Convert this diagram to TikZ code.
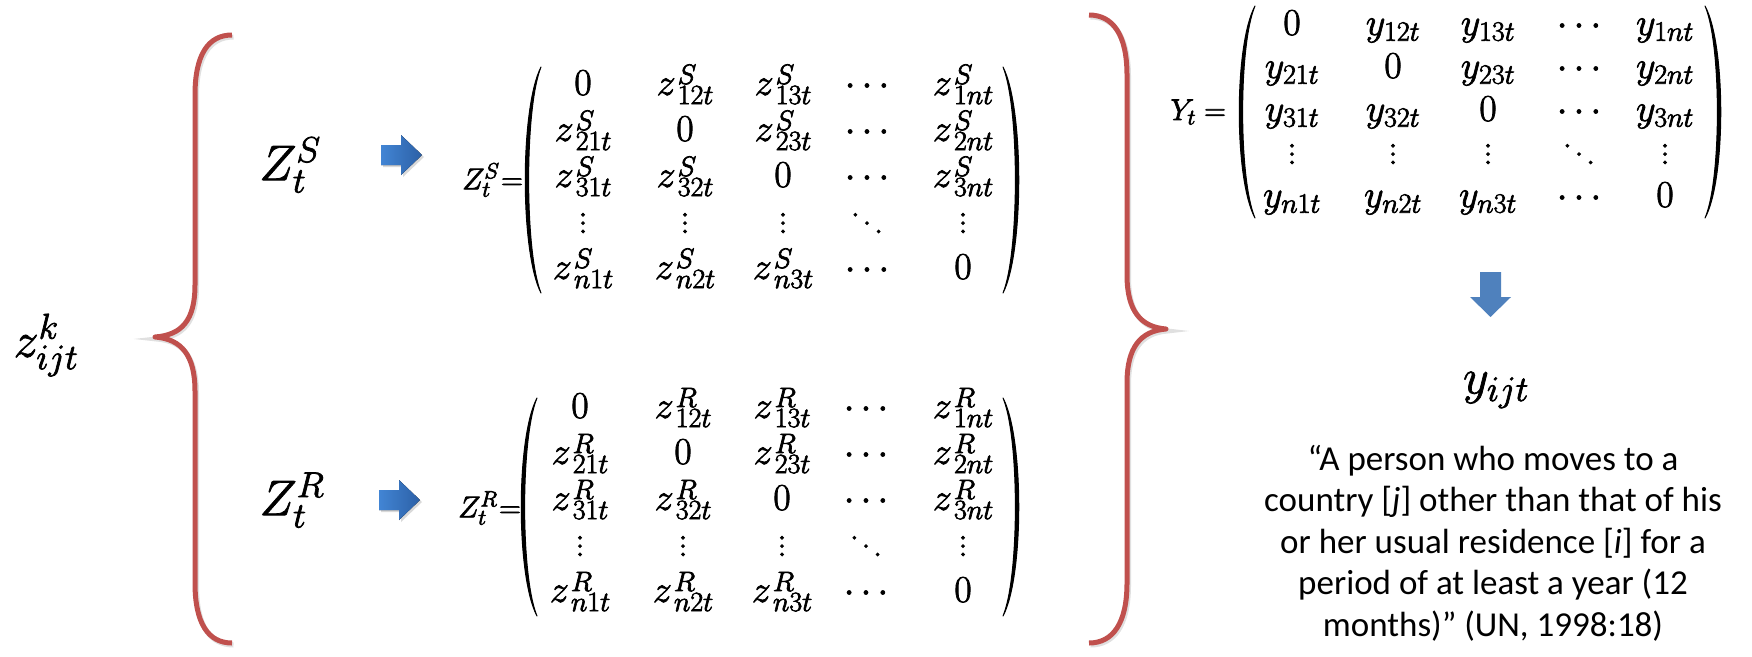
\RequirePackage{fix-cm}
\documentclass[tikz,border=0pt]{standalone}
\usepackage{fontspec}
\newfontfamily\calibri{Carlito}
\DeclareMathSizes{30}{30}{22}{16}
\DeclareMathSizes{38}{38}{28}{20}
\DeclareMathSizes{50}{50}{36}{26}
\definecolor{bracered}{RGB}{192,80,77}
\definecolor{arrowblue}{RGB}{79,129,189}
\definecolor{arrowlight}{RGB}{66,133,212}
\definecolor{arrowdark}{RGB}{44,96,166}
\newcommand\myvdots{\vbox{\baselineskip=0.22em\lineskiplimit=0pt\hbox{.}\hbox{.}\hbox{.}}}
\newcommand\myddots{\mathinner{\raise0.44em\hbox{.}\mkern1mu\raise0.22em\hbox{.}\mkern1mu\hbox{.}}}
\newcommand\zent[3]{#1\mkern1mu\rlap{\raisebox{0.29em}{$\scriptstyle #2$}}\raisebox{-0.24em}{$\scriptstyle #3$}}
\newcommand\boldon{\special{pdf:literal direct 2 Tr 0.7 w}}
\newcommand\boldoff{\special{pdf:literal direct 0 Tr}}
\newcommand\myLparen[3]{%
  \fill[black,draw=black,line width=1pt,line join=round] (#1,#2) .. controls ({#1-21},{#2+0.18*(#3-#2)}) and ({#1-21},{#3-0.18*(#3-#2)}) .. (#1,#3)
     .. controls ({#1-16.5},{#3-0.18*(#3-#2)}) and ({#1-16.5},{#2+0.18*(#3-#2)}) .. (#1,#2) -- cycle;}
\newcommand\myRparen[3]{%
  \fill[black,draw=black,line width=1pt,line join=round] (#1,#2) .. controls ({#1+21},{#2+0.18*(#3-#2)}) and ({#1+21},{#3-0.18*(#3-#2)}) .. (#1,#3)
     .. controls ({#1+16.5},{#3-0.18*(#3-#2)}) and ({#1+16.5},{#2+0.18*(#3-#2)}) .. (#1,#2) -- cycle;}
\begin{document}
\begin{tikzpicture}[x=1pt,y=-1pt,
  boldtext/.style={execute at begin node=\boldon, execute at end node=\boldoff},
  bigmath/.style={inner sep=0pt, font=\fontsize{50}{60}\selectfont, boldtext},
  midmath/.style={inner sep=0pt, font=\fontsize{30}{36}\selectfont, boldtext},
  entry/.style={inner sep=0pt, anchor=base, font=\fontsize{38}{44}\selectfont, boldtext},
  quoteline/.style={inner sep=0pt, anchor=base, font=\calibri\fontsize{35}{42}\selectfont},
  brace/.style={draw=bracered, line width=5pt, line join=round,
    preaction={draw=black, opacity=0.12, line width=5pt, transform canvas={shift={(1.5pt,-2pt)}}}},
  rarrow/.style={left color=arrowlight, right color=arrowdark, draw=none},
  ashadow/.style={fill=black, opacity=0.15}
]
\useasboundingbox (0,0) rectangle (1752,656);
\fill[white] (0,0) rectangle (1752,656);

% left label
\node[bigmath] (zk) at (46,345) {$z^{k}_{ijt}$};

% left brace
\draw[brace] (232,35) .. controls (208,35) and (195,55) .. (195,95) -- (195,285)
  .. controls (195,320) and (182,335) .. (155,337)
  .. controls (182,339) and (195,356) .. (195,391) -- (195,583)
  .. controls (195,623) and (208,643) .. (232,643);

% Z^S and Z^R labels
\node[bigmath] (ZS) at (290,165) {$Z^{S}_{t}$};
\node[bigmath] (ZR) at (292,500) {$Z^{R}_{t}$};

% right block arrows
\fill[ashadow] (383,147) -- (403,147) -- (403,137) -- (424,157) -- (403,177) -- (403,167) -- (383,167) -- cycle;
\fill[rarrow] (381,145) -- (401,145) -- (401,135) -- (422,155) -- (401,175) -- (401,165) -- (381,165) -- cycle;
\fill[ashadow] (381,492) -- (401,492) -- (401,482) -- (422,502) -- (401,522) -- (401,512) -- (381,512) -- cycle;
\fill[rarrow] (379,490) -- (399,490) -- (399,480) -- (420,500) -- (399,520) -- (399,510) -- (379,510) -- cycle;

% Z^S matrix
\node[midmath, anchor=east] (ZSeq) at (523,180) {$Z^{S}_{t}\mkern1mu{=}$};
\myLparen{541}{67}{293}
\myRparen{1003}{67}{293}
\foreach \rowlist [count=\r] in {
 {0,\zent{z}{S}{12t},\zent{z}{S}{13t},\cdots,\zent{z}{S}{1nt}},
 {\zent{z}{S}{21t},0,\zent{z}{S}{23t},\cdots,\zent{z}{S}{2nt}},
 {\zent{z}{S}{31t},\zent{z}{S}{32t},0,\cdots,\zent{z}{S}{3nt}},
 {\myvdots,\myvdots,\myvdots,\myddots,\myvdots},
 {\zent{z}{S}{n1t},\zent{z}{S}{n2t},\zent{z}{S}{n3t},\cdots,0}}{
  \foreach \e [count=\c] in \rowlist {
    \pgfmathsetmacro\xx{{583,685,783,867,963}[\c-1]}
    \pgfmathsetmacro\yy{{95,141,187,233,279}[\r-1]}
    \node[entry] (s-\r-\c) at (\xx,\yy) {$\e$};
  }
}

% Z^R matrix
\node[midmath, anchor=east] (ZReq) at (521,508) {$Z^{R}_{t}\mkern1mu{=}$};
\myLparen{537}{398}{616}
\myRparen{1003}{398}{616}
\foreach \rowlist [count=\r] in {
 {0,\zent{z}{R}{12t},\zent{z}{R}{13t},\cdots,\zent{z}{R}{1nt}},
 {\zent{z}{R}{21t},0,\zent{z}{R}{23t},\cdots,\zent{z}{R}{2nt}},
 {\zent{z}{R}{31t},\zent{z}{R}{32t},0,\cdots,\zent{z}{R}{3nt}},
 {\myvdots,\myvdots,\myvdots,\myddots,\myvdots},
 {\zent{z}{R}{n1t},\zent{z}{R}{n2t},\zent{z}{R}{n3t},\cdots,0}}{
  \foreach \e [count=\c] in \rowlist {
    \pgfmathsetmacro\xx{{580,683,782,866,963}[\c-1]}
    \pgfmathsetmacro\yy{{418,464,510,556,602}[\r-1]}
    \node[entry] (r-\r-\c) at (\xx,\yy) {$\e$};
  }
}

% right brace
\draw[brace] (1089,15) .. controls (1113,15) and (1127,35) .. (1127,75) -- (1127,275)
  .. controls (1127,310) and (1140,327) .. (1166,329)
  .. controls (1140,331) and (1127,348) .. (1127,383) -- (1127,583)
  .. controls (1127,623) and (1113,643) .. (1089,643);

% Y matrix
\node[midmath, anchor=east] (Yeq) at (1226,112) {$Y_{t}=$};
\myLparen{1255}{6}{218}
\myRparen{1705}{6}{218}
\foreach \rowlist [count=\r] in {
 {0,y_{12t},y_{13t},\cdots,y_{1nt}},
 {y_{21t},0,y_{23t},\cdots,y_{2nt}},
 {y_{31t},y_{32t},0,\cdots,y_{3nt}},
 {\myvdots,\myvdots,\myvdots,\myddots,\myvdots},
 {y_{n1t},y_{n2t},y_{n3t},\cdots,0}}{
  \foreach \e [count=\c] in \rowlist {
    \pgfmathsetmacro\xx{{1292,1393,1488,1579,1665}[\c-1]}
    \pgfmathsetmacro\yy{{35,78,121,164,207}[\r-1]}
    \node[entry] (y-\r-\c) at (\xx,\yy) {$\e$};
  }
}

% down arrow
\fill[arrowblue] (1480,272) -- (1501,272) -- (1501,297) -- (1511,297) -- (1490.5,317) -- (1470,297) -- (1480,297) -- cycle;

% y_ijt
\node[bigmath] (yijt) at (1496,390) {$y_{ijt}$};

% quote
\node[quoteline] (q1) at (1493,470) {“A person who moves to a};
\node[quoteline] (q2) at (1493,511.5) {country [\textit{j}] other than that of his};
\node[quoteline] (q3) at (1493,553) {or her usual residence [\textit{i}] for a};
\node[quoteline] (q4) at (1493,594.5) {period of at least a year (12};
\node[quoteline] (q5) at (1493,636) {months)” (UN, 1998:18)};
\end{tikzpicture}
\end{document}
